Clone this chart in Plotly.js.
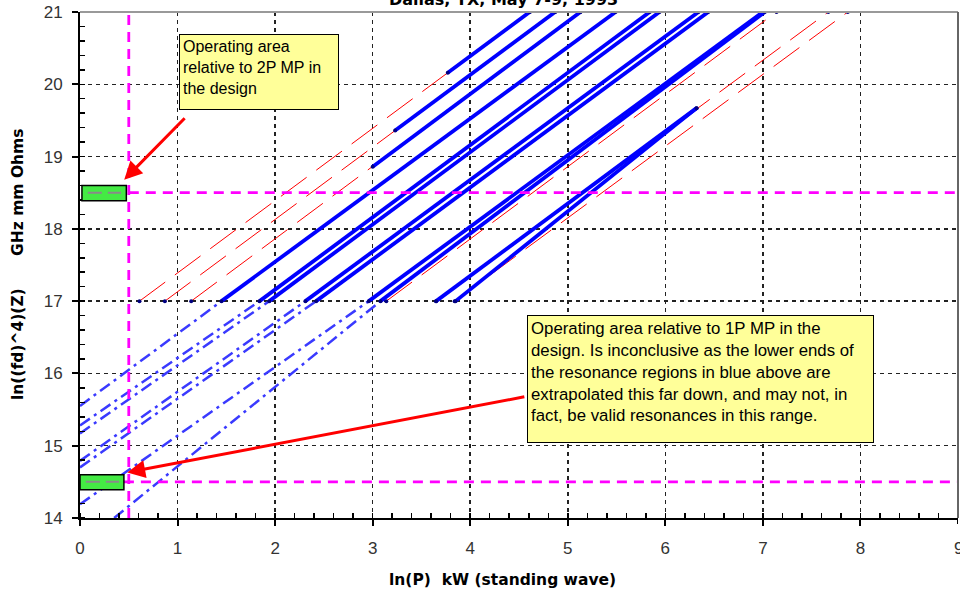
<!DOCTYPE html>
<html><head><meta charset="utf-8">
<script src="https://cdn.plot.ly/plotly-3.0.1.min.js"></script>
<style>html,body{margin:0;padding:0;background:#fff}</style>
</head><body><div id="chart" style="width:960px;height:595px"></div>
<script>
// Red dashed resonance lines
const redStartX = [0.61, 0.87, 1.14, 3.14, 3.65, 3.84];
const redStartY = [17, 17, 17, 17, 17, 17];
const redEndX   = [4.61, 4.87, 5.13, 7.14, 7.67, 7.87];
const redEndY   = [21, 21, 21, 21, 21, 21];

// Blue solid resonance regions
const blueStartX = [3.77, 3.23, 3.00, 1.45, 1.84, 1.94, 2.31, 2.42, 2.96, 3.08, 3.65, 3.85];
const blueStartY = [20.16, 19.36, 18.86, 17, 17, 17, 17, 17, 17, 17, 17, 17];
const blueEndX   = [4.61, 4.87, 5.13, 5.49, 5.84, 5.94, 6.34, 6.44, 7.00, 7.02, 6.32, 6.32];
const blueEndY   = [21, 21, 21, 21, 21, 21, 21, 21, 21, 21, 19.67, 19.67];

// Blue dash-dot extrapolations below 17
const extStartX = [0, 0, 0, 0, 0, 0, 0.35];
const extStartY = [15.55, 15.28, 15.17, 14.79, 14.70, 14.19, 14.0];
const extEndX   = [1.45, 1.84, 1.94, 2.31, 2.42, 2.96, 3.08];
const extEndY   = [17, 17, 17, 17, 17, 17, 17];

// Operating-area markers (magenta guide lines)
const opP = 0.5;            // ln(P) operating point
const op2P = 18.5;          // 2P MP operating level
const op1P = 14.5;          // 1P MP operating level

const xTicks = [0,1,2,3,4,5,6,7,8];
const yTicks = [14,15,16,17,18,19,20,21];

const traces = [];
for (let i = 0; i < extStartX.length; i++) {
  traces.push({x:[extStartX[i], extEndX[i]], y:[extStartY[i], extEndY[i]], mode:'lines',
    line:{color:'#3a3aff', width:2.5, dash:'12px,5px,3px,5px'}, hoverinfo:'skip', showlegend:false});
}
for (let i = 0; i < redStartX.length; i++) {
  traces.push({x:[redStartX[i], redEndX[i]], y:[redStartY[i], redEndY[i]], mode:'lines+markers',
    line:{color:'#ff0000', width:1, dash:'32px,12px'}, marker:{color:'#000080', size:4},
    hoverinfo:'skip', showlegend:false});
}
for (let i = 0; i < blueStartX.length; i++) {
  traces.push({x:[blueStartX[i], blueEndX[i]], y:[blueStartY[i], blueEndY[i]], mode:'lines+markers',
    line:{color:'#0000ff', width:3.8}, marker:{color:'#000080', size:4},
    hoverinfo:'skip', showlegend:false});
}
const mag = {color:'#ff00ff', width:2.8, dash:'10px,7px'};
traces.push({x:[opP, opP], y:[14, 21], mode:'lines', line:mag, hoverinfo:'skip', showlegend:false});
traces.push({x:[opP, 9], y:[op2P, op2P], mode:'lines', line:mag, hoverinfo:'skip', showlegend:false});
traces.push({x:[0.45, 9], y:[op1P, op1P], mode:'lines', line:mag, hoverinfo:'skip', showlegend:false});

const tickFont = {family:'Liberation Sans, Arial, sans-serif', size:17, color:'#333'};
const boldFont = {family:'DejaVu Sans, Verdana, sans-serif', size:15.5, color:'#000'};
const boxFont = {family:'Liberation Sans, Arial, sans-serif', size:16, color:'#000'};

const layout = {
  width:960, height:595,
  margin:{l:80, r:2, t:12, b:77},
  paper_bgcolor:'#fff', plot_bgcolor:'#fff',
  showlegend:false,
  xaxis:{range:[0,9], tickvals:xTicks, ticktext:xTicks.map(String), showgrid:true, gridcolor:'#222', gridwidth:1.5, griddash:'4px,4px',
    showline:true, linecolor:'#000', linewidth:2, ticks:'outside', ticklen:6, tickwidth:2, tickcolor:'#000',
    minor:{dtick:0.2, tick0:0, ticks:'inside', ticklen:5, tickwidth:1.5, tickcolor:'#000', showgrid:false},
    tickfont:tickFont, zeroline:false, ticklabelstandoff:8, fixedrange:true},
  yaxis:{range:[14,21], tickvals:yTicks, ticktext:yTicks.map(String), showgrid:true, gridcolor:'#222', gridwidth:1.5, griddash:'4px,4px',
    showline:true, linecolor:'#000', linewidth:2, ticks:'outside', ticklen:6, tickwidth:2, tickcolor:'#000',
    minor:{dtick:0.2, tick0:14, ticks:'inside', ticklen:5, tickwidth:1.5, tickcolor:'#000', showgrid:false},
    tickfont:tickFont, zeroline:false, ticklabelstandoff:6, fixedrange:true},
  shapes:[
    {type:'line', xref:'paper', yref:'paper', x0:0, x1:1, y0:1, y1:1, line:{color:'#999', width:2}},
    {type:'line', xref:'paper', yref:'paper', x0:1, x1:1, y0:0, y1:1, line:{color:'#666', width:2}},
    {type:'line', xref:'x', yref:'paper', x0:9, x1:9, y0:0, y1:-0.012, line:{color:'#000', width:2}},
    {type:'rect', xref:'x', yref:'y', x0:0.02, x1:0.475, y0:18.39, y1:18.6, fillcolor:'#44ea44', line:{color:'#000', width:1.5}},
    {type:'line', xref:'x', yref:'y', x0:0.08, x1:0.42, y0:18.5, y1:18.5, line:{color:'#8a8a8a', width:2, dash:'14px,6px'}},
    {type:'rect', xref:'x', yref:'y', x0:0.0, x1:0.45, y0:14.39, y1:14.6, fillcolor:'#44ea44', line:{color:'#000', width:1.5}},
    {type:'line', xref:'x', yref:'y', x0:0.06, x1:0.40, y0:14.5, y1:14.5, line:{color:'#8a8a8a', width:2, dash:'14px,6px'}}
  ],
  annotations:[
    {text:'<b>Dallas, TX, May 7-9, 1993</b>', xref:'x', x:4.34, yref:'paper', y:1, yanchor:'bottom', yshift:1,
      showarrow:false, font:{family:'DejaVu Sans, Verdana, sans-serif', size:16, color:'#000'}},
    {text:'9', xref:'x', x:9, yref:'paper', y:0, yanchor:'middle', yshift:-30, showarrow:false, font:tickFont},
    {text:'<b>ln(P)&nbsp;&nbsp;kW (standing wave)</b>', xref:'x', x:4.33, yref:'paper', y:0, yanchor:'middle', yshift:-62,
      showarrow:false, font:boldFont},
    {text:'<b>ln((fd)^4)(Z)&nbsp;&nbsp;&nbsp;&nbsp;&nbsp;&nbsp;GHz mm Ohms</b>', xref:'paper', x:0, xshift:-62, xanchor:'center',
      yref:'paper', y:0.5, textangle:-90, showarrow:false, font:boldFont},
    {text:'Operating area<br>relative to 2P MP in<br>the design', xref:'x', yref:'y', x:1.018, y:20.69, xanchor:'left', yanchor:'top',
      align:'left', valign:'top', width:152, height:68, bgcolor:'#ffff99', bordercolor:'#000', borderwidth:1, borderpad:3,
      showarrow:false, font:boxFont},
    {text:'Operating area relative to 1P MP in the<br>design. Is inconclusive as the lower ends of<br>the resonance regions in blue above are<br>extrapolated this far down, and may not, in<br>fact, be valid resonances in this range.',
      xref:'x', yref:'y', x:4.578, y:16.815, xanchor:'left', yanchor:'top',
      align:'left', valign:'top', width:339, height:120, bgcolor:'#ffff99', bordercolor:'#000', borderwidth:1, borderpad:3,
      showarrow:false, font:{family:'Liberation Sans, Arial, sans-serif', size:16.8, color:'#000'}},
    {text:'', x:0.453, y:18.68, xref:'x', yref:'y', ax:1.088, ay:19.55, axref:'x', ayref:'y', showarrow:true,
      arrowcolor:'#ff0000', arrowwidth:3, arrowhead:2, arrowsize:1.2},
    {text:'', x:0.484, y:14.63, xref:'x', yref:'y', ax:4.57, ay:15.68, axref:'x', ayref:'y', showarrow:true,
      arrowcolor:'#ff0000', arrowwidth:3, arrowhead:2, arrowsize:1.2}
  ]
};
Plotly.newPlot('chart', traces, layout, {displayModeBar:false, staticPlot:true});
</script></body></html>
